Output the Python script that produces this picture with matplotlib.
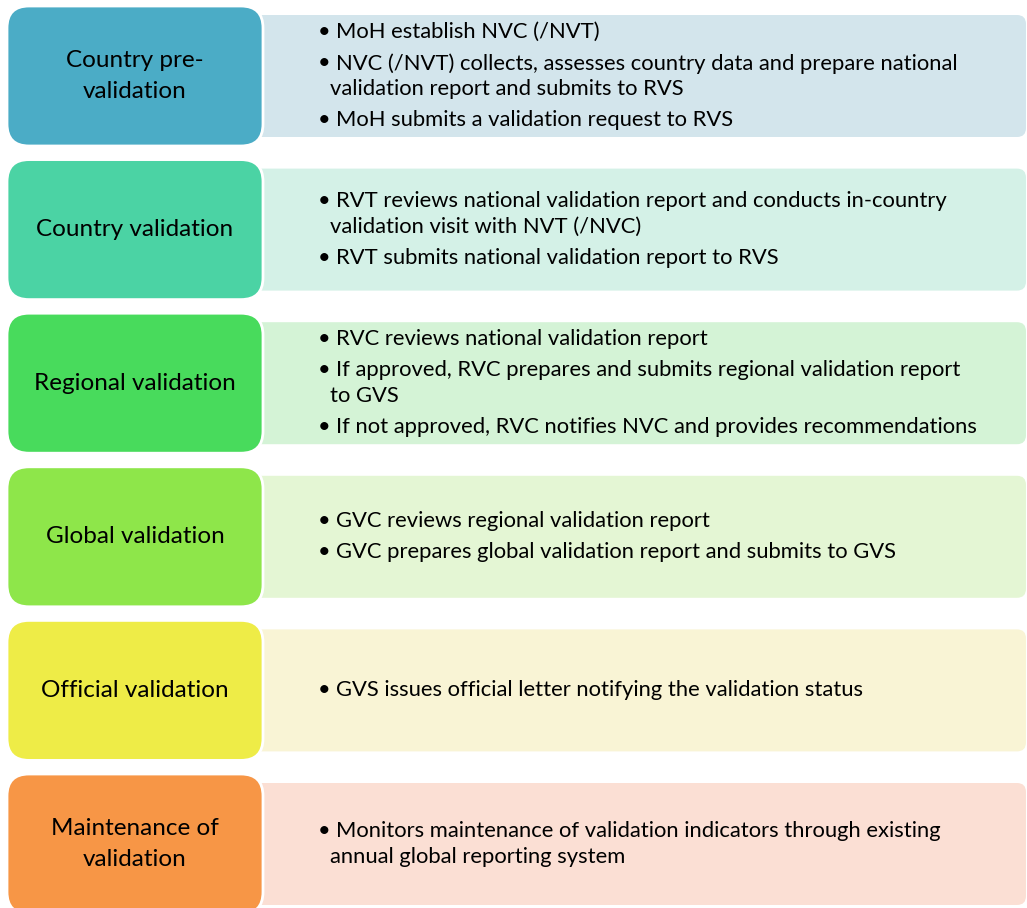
import matplotlib.pyplot as plt
from matplotlib.patches import FancyBboxPatch

stages = ["Country pre-\nvalidation", "Country validation", "Regional validation",
          "Global validation", "Official validation", "Maintenance of\nvalidation"]
stage_colors = ["#4BACC6", "#4BD3A4", "#48DB5C", "#8EE64A", "#EEEC47", "#F79646"]
panel_colors = ["#D3E5EC", "#D4F1E7", "#D4F3D6", "#E4F6D4", "#F9F4D5", "#FBDFD4"]

# each bullet is a list of wrapped lines
bullets = [
    [["MoH establish NVC (/NVT)"],
     ["NVC (/NVT) collects, assesses country data and prepare national",
      "validation report and submits to RVS"],
     ["MoH submits a validation request to RVS"]],
    [["RVT reviews national validation report and conducts in-country",
      "validation visit with NVT (/NVC)"],
     ["RVT submits national validation report to RVS"]],
    [["RVC reviews national validation report"],
     ["If approved, RVC prepares and submits regional validation report",
      "to GVS"],
     ["If not approved, RVC notifies NVC and provides recommendations"]],
    [["GVC reviews regional validation report"],
     ["GVC prepares global validation report and submits to GVS"]],
    [["GVS issues official letter notifying the validation status"]],
    [["Monitors maintenance of validation indicators through existing",
      "annual global reporting system"]],
]

plt.rcParams['font.family'] = ['Lato', 'DejaVu Sans']

fig = plt.figure(figsize=(10.27, 9.08), dpi=100)
ax = fig.add_axes([0, 0, 1, 1])
ax.set_xlim(0, 1027)
ax.set_ylim(908, 0)
ax.axis('off')

row_step = 153.6
box_h = 140
line_gap = 25.5
bullet_gap = 31
fs_label = 17.5
fs_text = 15.8

for i, name in enumerate(stages):
    top = 6 + i * row_step
    # light panel behind
    pan_top = top + 9
    pan_h = box_h - 18
    ax.add_patch(FancyBboxPatch((240, pan_top), 786, pan_h,
                                boxstyle="round,pad=0,rounding_size=9",
                                fc=panel_colors[i], ec='none', zorder=1))
    # coloured stage box
    ax.add_patch(FancyBboxPatch((7, top), 256, box_h,
                                boxstyle="round,pad=0,rounding_size=22",
                                fc=stage_colors[i], ec='white', lw=2, zorder=2))
    ax.text(135, top + box_h / 2, name, ha='center', va='center',
            fontsize=fs_label, linespacing=1.6, zorder=3)

    # bullet text block, centred on the panel
    groups = bullets[i]
    n_lines = sum(len(g) for g in groups)
    height = (n_lines - len(groups)) * line_gap + (len(groups) - 1) * bullet_gap
    y = pan_top + pan_h / 2 - height / 2
    for g in groups:
        for k, line in enumerate(g):
            if k == 0:
                ax.text(318, y, "\u2022", ha='left', va='center', fontsize=fs_text, zorder=3)
                ax.text(336, y, line, ha='left', va='center', fontsize=fs_text, zorder=3)
            else:
                ax.text(330, y, line, ha='left', va='center', fontsize=fs_text, zorder=3)
            y += line_gap if k < len(g) - 1 else 0
        y += bullet_gap

fig.savefig("out.png", dpi=100)
